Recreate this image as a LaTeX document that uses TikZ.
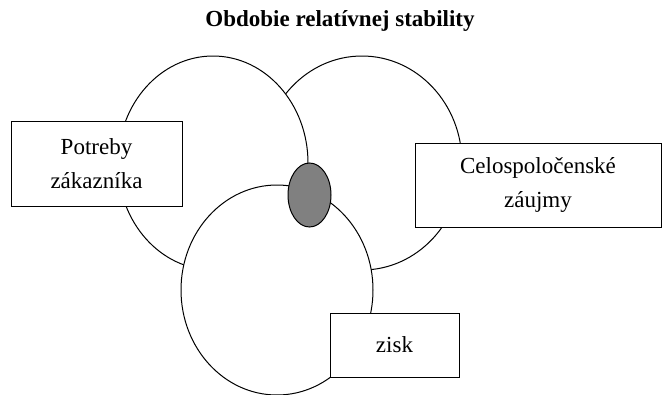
\documentclass[tikz,border=0pt]{standalone}
\usepackage{fontspec}
\setmainfont{Liberation Serif}
\usetikzlibrary{shapes.geometric}
\begin{document}
\begin{tikzpicture}[x=1pt,y=-1pt,
  circ/.style={ellipse,draw,fill=white,line width=1pt,inner sep=0pt},
  lbl/.style={rectangle,draw,fill=white,line width=1pt,inner sep=0pt,align=center,
    font=\fontsize{23}{34}\selectfont},
  core/.style={ellipse,draw,fill=black!50,line width=1pt,inner sep=0pt}]
\useasboundingbox (0,0) rectangle (664,394);
\node[font=\fontsize{23}{28}\selectfont\bfseries] (title) at (340,21) {Obdobie relatívnej stability};
\node[circ,minimum width=200pt,minimum height=214pt] (cr) at (362,163) {};
\node[circ,minimum width=190pt,minimum height=214pt] (cl) at (213,163) {};
\node[circ,minimum width=192pt,minimum height=210pt] (cb) at (277,290) {};
\node[core,minimum width=43pt,minimum height=64pt] (mid) at (309.5,195) {};
\node[lbl,minimum width=171pt,minimum height=85pt] (potreby) at (96.5,163.5) {Potreby\\zákazníka};
\node[lbl,minimum width=246pt,minimum height=84pt] (celo) at (538,185) {Celospoločenské\\záujmy};
\node[lbl,minimum width=129pt,minimum height=64pt] (zisk) at (394.5,345) {zisk};
\end{tikzpicture}
\end{document}
